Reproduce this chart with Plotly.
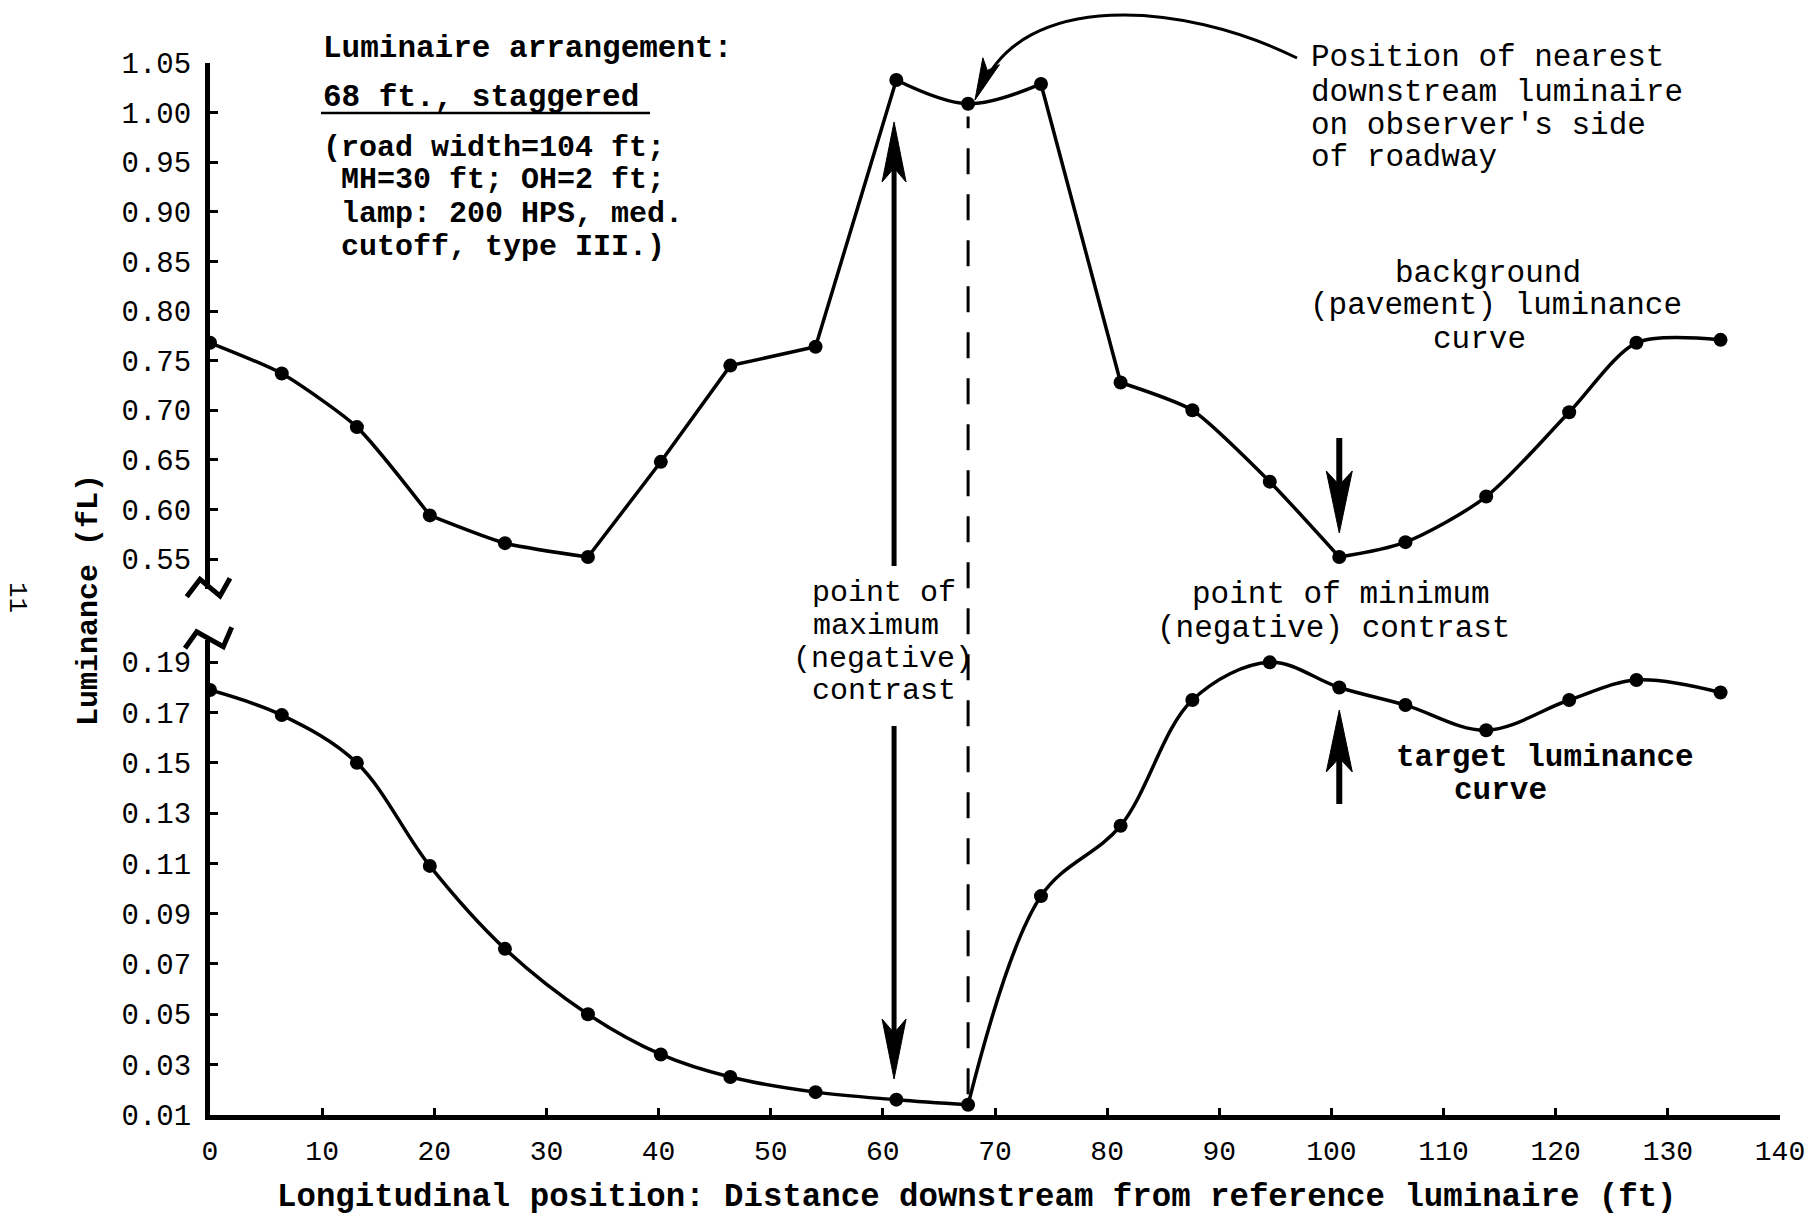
import plotly.graph_objects as go

# ---------------- data ----------------
distance_ft = [0, 6.4, 13.1, 19.6, 26.3, 33.7, 40.2, 46.4, 54.0, 61.2, 67.6,
               74.1, 81.2, 87.6, 94.5, 100.7, 106.6, 113.8, 121.2, 127.2, 134.7]
background_lum = [0.768, 0.737, 0.683, 0.594, 0.566, 0.552, 0.648, 0.745, 0.764, 1.033, 1.009,
                  1.029, 0.728, 0.700, 0.628, 0.552, 0.567, 0.613, 0.698, 0.768, 0.771]
target_lum = [0.179, 0.169, 0.150, 0.109, 0.076, 0.050, 0.034, 0.025, 0.019, 0.016, 0.014,
              0.097, 0.125, 0.175, 0.190, 0.180, 0.173, 0.163, 0.175, 0.183, 0.178]
upper_ticks = [0.55, 0.60, 0.65, 0.70, 0.75, 0.80, 0.85, 0.90, 0.95, 1.00, 1.05]
lower_ticks = [0.01, 0.03, 0.05, 0.07, 0.09, 0.11, 0.13, 0.15, 0.17, 0.19]
x_ticks = [0, 10, 20, 30, 40, 50, 60, 70, 80, 90, 100, 110, 120, 130, 140]
luminaire_x = 67.6        # nearest downstream luminaire
max_contrast_x = 61.0     # point of maximum (negative) contrast
min_contrast_x = 100.7    # point of minimum (negative) contrast

# ---------------- layout geometry ----------------
W, H = 1819, 1217
ML, MR, MT, MB = 210, 39, 63, 102
PW, PH = W - ML - MR, H - MT - MB
UP_DOM = [0.5002, 1.0]
LO_DOM = [0.0, 0.4518]
UP_RANGE = [0.52, 1.0501]
LO_RANGE = [0.0099, 0.199]
FONT = "Liberation Mono"


def px(x):
    return (x - ML) / PW


def py(y):
    return (H - MB - y) / PH


def xpix(v):
    return ML + v / 140.0 * PW


def lo_paper(v):
    return LO_DOM[0] + (v - LO_RANGE[0]) / (LO_RANGE[1] - LO_RANGE[0]) * (LO_DOM[1] - LO_DOM[0])


def up_paper(v):
    return UP_DOM[0] + (v - UP_RANGE[0]) / (UP_RANGE[1] - UP_RANGE[0]) * (UP_DOM[1] - UP_DOM[0])


fig = go.Figure()


def seg(xs, ys, i0, i1, yaxis, shape, smooth=1.0):
    kw = dict(shape=shape)
    if shape == "spline":
        kw["smoothing"] = smooth
    fig.add_trace(go.Scatter(x=xs[i0:i1 + 1], y=ys[i0:i1 + 1], mode="lines", yaxis=yaxis,
                             line=dict(color="black", width=3.5, **kw),
                             hoverinfo="skip", showlegend=False))


# background (pavement) luminance curve
seg(distance_ft, background_lum, 0, 3, "y2", "spline", 0.6)
seg(distance_ft, background_lum, 3, 5, "y2", "spline", 0.6)
seg(distance_ft, background_lum, 5, 9, "y2", "linear")
seg(distance_ft, background_lum, 9, 11, "y2", "spline", 1.0)
seg(distance_ft, background_lum, 11, 12, "y2", "linear")
seg(distance_ft, background_lum, 12, 15, "y2", "spline", 0.6)
seg(distance_ft, background_lum, 15, 20, "y2", "spline", 0.8)
fig.add_trace(go.Scatter(x=distance_ft, y=background_lum, mode="markers", yaxis="y2",
                         marker=dict(color="black", size=14), showlegend=False))

# target luminance curve
seg(distance_ft, target_lum, 0, 10, "y", "spline", 1.0)
seg(distance_ft, target_lum, 10, 20, "y", "spline", 1.0)
fig.add_trace(go.Scatter(x=distance_ft, y=target_lum, mode="markers", yaxis="y",
                         marker=dict(color="black", size=14), showlegend=False))

shapes = []

# dashed luminaire position line
shapes.append(dict(type="line", xref="x", yref="paper",
                   x0=luminaire_x, x1=luminaire_x,
                   y0=lo_paper(target_lum[10]) + 0.01, y1=up_paper(background_lum[10]) - 0.012,
                   line=dict(color="black", width=3, dash="26px,20px")))


def head_path(tx, ty, dx, dy, length=60, hw=12, notch=12):
    bx, by = tx - length * dx, ty - length * dy
    pxp, pyp = -dy, dx
    b1 = (bx + hw * pxp, by + hw * pyp)
    b2 = (bx - hw * pxp, by - hw * pyp)
    nx, ny = tx - (length - notch) * dx, ty - (length - notch) * dy
    pts = [(tx, ty), b1, (nx, ny), b2]
    return "M " + " L ".join(f"{px(a):.5f},{py(b):.5f}" for a, b in pts) + " Z"


def v_arrow(xdata, y_tail, y_tip, width=5, length=60, hw=12):
    xp = xpix(xdata)
    d = 1 if y_tip > y_tail else -1
    shapes.append(dict(type="line", xref="paper", yref="paper",
                       x0=px(xp), x1=px(xp), y0=py(y_tail), y1=py(y_tip - d * 30),
                       line=dict(color="black", width=width)))
    shapes.append(dict(type="path", xref="paper", yref="paper",
                       path=head_path(xp, y_tip, 0, d, length, hw, 14),
                       fillcolor="black", line=dict(color="black", width=1)))


v_arrow(max_contrast_x, 566, 122)
v_arrow(max_contrast_x, 726, 1079)
v_arrow(min_contrast_x, 438, 533, width=6, length=62, hw=13)
v_arrow(min_contrast_x, 804, 710, width=6, length=62, hw=13)

# curved arrow to luminaire position
P0, P1, P2, P3 = (1297, 58), (1180, 0), (1022, -8), (982, 88)
shapes.append(dict(type="path", xref="paper", yref="paper",
                   path=(f"M {px(P0[0]):.5f},{py(P0[1]):.5f} C {px(P1[0]):.5f},{py(P1[1]):.5f} "
                         f"{px(P2[0]):.5f},{py(P2[1]):.5f} {px(P3[0]):.5f},{py(P3[1]):.5f}"),
                   line=dict(color="black", width=3)))
ddx, ddy = P3[0] - P2[0], P3[1] - P2[1]
nrm = (ddx ** 2 + ddy ** 2) ** 0.5
shapes.append(dict(type="path", xref="paper", yref="paper",
                   path=head_path(975, 100, ddx / nrm, ddy / nrm, 42, 9, 10),
                   fillcolor="black", line=dict(color="black", width=1)))

# axis break marks
for pts in ([(186.7, 596.7), (200, 579.3), (220, 596), (230, 578.3)],
            [(185, 648.3), (196.7, 631.7), (223.3, 646.7), (231.7, 627.3)]):
    shapes.append(dict(type="path", xref="paper", yref="paper",
                       path="M " + " L ".join(f"{px(a):.5f},{py(b):.5f}" for a, b in pts),
                       line=dict(color="black", width=5)))

# underline of "68 ft., staggered"
shapes.append(dict(type="line", xref="paper", yref="paper",
                   x0=px(321), x1=px(650), y0=py(113), y1=py(113),
                   line=dict(color="black", width=2.5)))

annotations = []


def txt(s, x, y, size=31, anchor="left", bold=False, angle=0, color="black"):
    if bold:
        s = f"<b>{s}</b>"
    annotations.append(dict(text=s, x=px(x), y=py(y), xref="paper", yref="paper",
                            xanchor=anchor, yanchor="middle", showarrow=False,
                            textangle=angle,
                            font=dict(family=FONT, size=size, color=color)))


txt("Luminaire arrangement:", 321, 49, 31, bold=True)
txt("68 ft., staggered", 321, 97, 31, bold=True)
txt("(road width=104 ft;", 321, 148, 30, bold=True)
txt("MH=30 ft; OH=2 ft;", 339, 180, 30, bold=True)
txt("lamp: 200 HPS, med.", 339, 214, 30, bold=True)
txt("cutoff, type III.)", 339, 247, 30, bold=True)

txt("Position of nearest", 1309, 58, 31)
txt("downstream luminaire", 1309, 93, 31)
txt("on observer's side", 1309, 125, 31)
txt("of roadway", 1309, 157, 31)

txt("background", 1488, 273, 31, anchor="center")
txt("(pavement) luminance", 1496, 306, 31, anchor="center")
txt("curve", 1479, 339, 31, anchor="center")

txt("point of", 884, 593, 30, anchor="center")
txt("maximum", 876, 626, 30, anchor="center")
txt("(negative)", 883, 659, 30, anchor="center")
txt("contrast", 884, 691, 30, anchor="center")

txt("point of minimum", 1341, 594, 31, anchor="center")
txt("(negative) contrast", 1333, 628, 31, anchor="center")

txt("target luminance", 1545, 757, 31, anchor="center", bold=True)
txt("curve", 1500, 790, 31, anchor="center", bold=True)

txt("Longitudinal position: Distance downstream from reference luminaire (ft)",
    977, 1197, 32.4, anchor="center", bold=True)
txt("Luminance (fL)", 89, 600, 30, anchor="center", bold=True, angle=-90)
txt("11", 17, 597, 26, anchor="center", angle=90)

axis_common = dict(showline=True, linecolor="black", linewidth=5, ticks="inside",
                   tickcolor="black", showgrid=False, zeroline=False, mirror=False)

fig.update_layout(
    width=W, height=H, autosize=False,
    margin=dict(l=ML, r=MR, t=MT, b=MB, pad=0),
    paper_bgcolor="white", plot_bgcolor="white",
    showlegend=False,
    xaxis=dict(range=[0, 140], tickvals=x_ticks, ticklen=7, tickwidth=3,
               anchor="y", ticklabelstandoff=6,
               tickfont=dict(family=FONT, size=28, color="black"),
               **axis_common),
    yaxis=dict(domain=LO_DOM, range=LO_RANGE, tickvals=lower_ticks, tickformat=".2f",
               ticklen=8, tickwidth=3, anchor="x", ticklabelstandoff=8,
               tickfont=dict(family=FONT, size=29, color="black"),
               **axis_common),
    yaxis2=dict(domain=UP_DOM, range=UP_RANGE, tickvals=upper_ticks, tickformat=".2f",
                ticklen=8, tickwidth=3, anchor="x", ticklabelstandoff=8,
                tickfont=dict(family=FONT, size=29, color="black"),
                **axis_common),
    shapes=shapes,
    annotations=annotations,
)

fig.update_xaxes(tickprefix="<b>", ticksuffix="</b>")
fig.update_yaxes(tickprefix="<b>", ticksuffix="</b>")

fig.write_html("out.html", config={"displayModeBar": False},
               post_script="document.body.style.margin='0';document.body.style.overflow='hidden';")
